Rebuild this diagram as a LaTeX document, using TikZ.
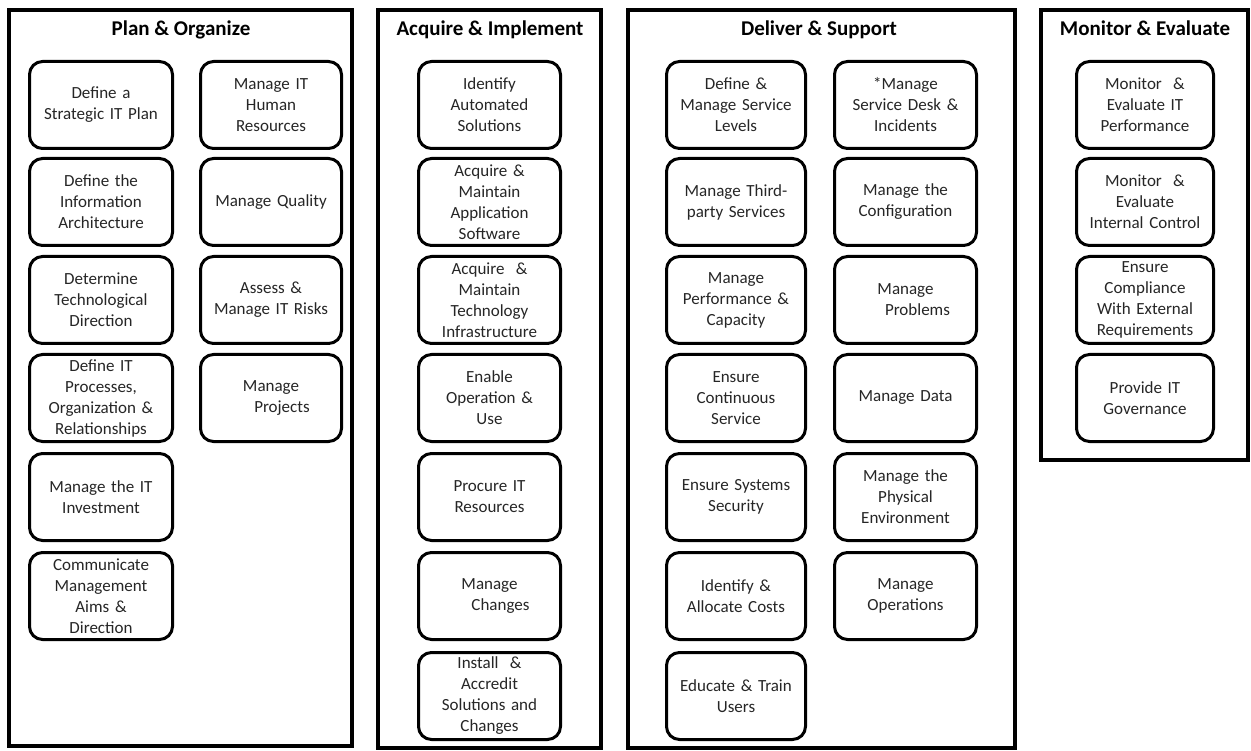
\documentclass[tikz,border=0pt]{standalone}
\usepackage{fontspec}
\setmainfont{Carlito}
\begin{document}
\begin{tikzpicture}[x=1pt,y=-1pt,
  panel/.style={draw=black, line width=4pt, inner sep=0pt, fill=white},
  ptitle/.style={font=\fontsize{21}{25}\selectfont\bfseries, anchor=base, inner sep=0pt, text=black},
  proc/.style={draw=black, line width=3pt, rounded corners=13pt, minimum height=87pt,
    inner sep=0pt, align=center, text width=132pt, text=black!85,
    font=\fontsize{17}{21}\selectfont},
]
\useasboundingbox (0,0) rectangle (1251,751);

% panels
\node[panel, minimum width=343pt, minimum height=736pt] (po) at (180.5,378) {};
\node[panel, minimum width=223pt, minimum height=738pt] (ai) at (489.5,379) {};
\node[panel, minimum width=387pt, minimum height=738pt] (ds) at (821.5,379) {};
\node[panel, minimum width=207pt, minimum height=450pt] (me) at (1144.5,235) {};

% titles
\node[ptitle] (pot) at (181,36) {Plan \& Organize};
\node[ptitle] (ait) at (490,36) {Acquire \& Implement};
\node[ptitle] (dst) at (819,36) {Deliver \& Support};
\node[ptitle] (met) at (1145,36) {Monitor \& Evaluate};

% Plan & Organize, left column
\node[proc, minimum width=143pt] (po1) at (101,105) {Define a\\Strategic IT Plan};
\node[proc, minimum width=143pt] (po2) at (101,202) {Define the\\Information\\Architecture};
\node[proc, minimum width=143pt] (po3) at (101,300) {Determine\\Technological\\Direction};
\node[proc, minimum width=143pt] (po4) at (101,398) {Define IT\\Processes,\\Organization \&\\Relationships};
\node[proc, minimum width=143pt] (po5) at (101,497) {Manage the IT\\Investment};
\node[proc, minimum width=143pt] (po6) at (101,596) {Communicate\\Management\\Aims \&\\Direction};
% Plan & Organize, right column
\node[proc, minimum width=141pt] (po7) at (271,105) {Manage IT\\Human\\Resources};
\node[proc, minimum width=141pt] (po8) at (271,202) {Manage Quality};
\node[proc, minimum width=141pt] (po9) at (271,300) {Assess \&\\Manage IT Risks};
\node[proc, minimum width=141pt] (po10) at (271,398) {Manage\\\hspace*{22pt}Projects};

% Acquire & Implement
\node[proc, minimum width=142pt] (ai1) at (489.5,105) {Identify\\Automated\\Solutions};
\node[proc, minimum width=142pt] (ai2) at (489.5,202) {Acquire \&\\Maintain\\Application\\Software};
\node[proc, minimum width=142pt] (ai3) at (489.5,300) {Acquire \ \&\\Maintain\\Technology\\Infrastructure};
\node[proc, minimum width=142pt] (ai4) at (489.5,398) {Enable\\Operation \&\\Use};
\node[proc, minimum width=142pt] (ai5) at (489.5,497) {Procure IT\\Resources};
\node[proc, minimum width=142pt] (ai6) at (489.5,596) {Manage\\\hspace*{22pt}Changes};
\node[proc, minimum width=142pt] (ai7) at (489.5,696) {Install \ \&\\Accredit\\Solutions and\\Changes};

% Deliver & Support, left column
\node[proc, minimum width=139pt] (ds1) at (736,105) {Define \&\\Manage Service\\Levels};
\node[proc, minimum width=139pt] (ds2) at (736,202) {Manage Third-\\party Services};
\node[proc, minimum width=139pt] (ds3) at (736,300) {Manage\\Performance \&\\Capacity};
\node[proc, minimum width=139pt] (ds4) at (736,398) {Ensure\\Continuous\\Service};
\node[proc, minimum width=139pt] (ds5) at (736,497) {Ensure Systems\\Security};
\node[proc, minimum width=139pt] (ds6) at (736,596) {Identify \&\\Allocate Costs};
\node[proc, minimum width=139pt] (ds7) at (736,696) {Educate \& Train\\Users};
% Deliver & Support, right column
\node[proc, minimum width=142pt] (ds8) at (905.5,105) {*Manage\\Service Desk \&\\Incidents};
\node[proc, minimum width=142pt] (ds9) at (905.5,202) {Manage the\\Configuration};
\node[proc, minimum width=142pt] (ds10) at (905.5,300) {Manage\\\hspace*{24pt}Problems};
\node[proc, minimum width=142pt] (ds11) at (905.5,398) {Manage Data};
\node[proc, minimum width=142pt] (ds12) at (905.5,497) {Manage the\\Physical\\Environment};
\node[proc, minimum width=142pt] (ds13) at (905.5,596) {Manage\\Operations};

% Monitor & Evaluate
\node[proc, minimum width=137pt] (me1) at (1145,105) {Monitor \ \&\\Evaluate IT\\Performance};
\node[proc, minimum width=137pt] (me2) at (1145,202) {Monitor \ \&\\Evaluate\\Internal Control};
\node[proc, minimum width=137pt] (me3) at (1145,300) {Ensure\\Compliance\\With External\\Requirements};
\node[proc, minimum width=137pt] (me4) at (1145,398) {Provide IT\\Governance};
\end{tikzpicture}
\end{document}
